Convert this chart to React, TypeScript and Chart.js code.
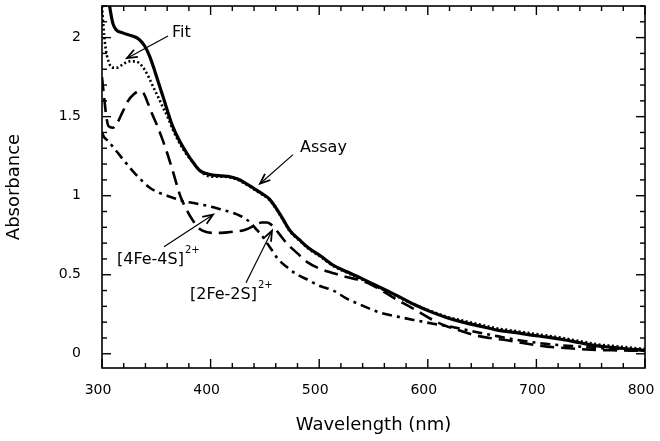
import React, { useEffect, useRef } from "react";
import { Chart, registerables } from "chart.js";

Chart.register(...registerables);

// ---- Data ----
const assayX = [303, 307, 310, 313, 319, 328, 334, 339, 344, 349, 356, 365, 372, 378, 385, 390, 396, 402, 410, 418, 425, 432, 440, 448, 454, 460, 466, 473, 482, 490, 501, 513, 525, 538, 550, 562, 574, 588, 603, 617, 632, 648, 664, 680, 694, 710, 724, 740, 756, 770, 785, 800];
const assayY = [2.4, 2.2, 2.09, 2.05, 2.03, 2.01, 1.99, 1.95, 1.88, 1.78, 1.63, 1.44, 1.34, 1.27, 1.2, 1.16, 1.14, 1.13, 1.125, 1.12, 1.105, 1.08, 1.045, 1.01, 0.98, 0.925, 0.86, 0.78, 0.72, 0.67, 0.62, 0.56, 0.52, 0.48, 0.44, 0.4, 0.36, 0.31, 0.265, 0.23, 0.2, 0.175, 0.15, 0.135, 0.12, 0.105, 0.09, 0.07, 0.05, 0.04, 0.03, 0.02];

const fitX = [300, 301, 303, 306, 310, 314, 319, 325, 330, 334, 339, 343, 347, 352, 356, 361, 365, 370, 378, 385, 390, 396, 402, 410, 418, 425, 432, 440, 448, 454, 460, 466, 473, 482, 490, 501, 513, 525, 538, 550, 562, 574, 588, 603, 617, 632, 648, 664, 680, 694, 710, 724, 740, 756, 770, 785, 800];
const fitY = [2.2, 2.1, 1.95, 1.85, 1.81, 1.81, 1.83, 1.85, 1.85, 1.84, 1.8, 1.75, 1.69, 1.62, 1.56, 1.49, 1.42, 1.35, 1.26, 1.2, 1.16, 1.13, 1.12, 1.12, 1.115, 1.1, 1.075, 1.04, 1.005, 0.975, 0.92, 0.855, 0.775, 0.715, 0.665, 0.615, 0.555, 0.515, 0.475, 0.435, 0.395, 0.355, 0.31, 0.27, 0.235, 0.21, 0.185, 0.16, 0.145, 0.13, 0.115, 0.1, 0.08, 0.06, 0.05, 0.04, 0.03];

const fe2sX = [300, 302, 304, 306, 310, 314, 319, 324, 329, 334, 338, 342, 346, 351, 356, 360, 365, 372, 378, 384, 390, 396, 402, 410, 418, 425, 432, 440, 447, 452, 457, 463, 470, 480, 489, 500, 513, 525, 538, 550, 560, 572, 583, 593, 603, 615, 628, 642, 657, 673, 690, 710, 730, 750, 770, 786, 800];
const fe2sY = [1.75, 1.62, 1.5, 1.44, 1.43, 1.46, 1.53, 1.6, 1.64, 1.66, 1.65, 1.59, 1.52, 1.44, 1.35, 1.27, 1.16, 1.0, 0.91, 0.84, 0.79, 0.77, 0.765, 0.765, 0.77, 0.775, 0.785, 0.81, 0.83, 0.83, 0.81, 0.76, 0.7, 0.635, 0.58, 0.54, 0.51, 0.485, 0.465, 0.43, 0.39, 0.34, 0.3, 0.26, 0.22, 0.18, 0.15, 0.12, 0.1, 0.085, 0.065, 0.045, 0.035, 0.025, 0.022, 0.02, 0.02];

const fe4sX = [300, 302, 305, 310, 317, 323, 329, 336, 344, 352, 360, 368, 375, 383, 390, 398, 406, 414, 421, 428, 433, 438, 443, 448, 452, 457, 462, 470, 480, 489, 500, 513, 525, 538, 556, 572, 590, 605, 618, 636, 650, 665, 680, 700, 720, 740, 760, 780, 800];
const fe4sY = [1.4, 1.37, 1.35, 1.31, 1.25, 1.2, 1.15, 1.1, 1.05, 1.02, 1.0, 0.98, 0.965, 0.955, 0.945, 0.935, 0.92, 0.905, 0.89, 0.87, 0.85, 0.82, 0.78, 0.74, 0.7, 0.65, 0.6, 0.55, 0.5, 0.47, 0.43, 0.4, 0.35, 0.31, 0.26, 0.235, 0.21, 0.19, 0.175, 0.15, 0.13, 0.11, 0.09, 0.07, 0.055, 0.045, 0.035, 0.03, 0.025];

const xTickValues = [300, 400, 500, 600, 700, 800];
const xTickLabels = ["300", "400", "500", "600", "700", "800"];
const yTickValues = [0, 0.5, 1, 1.5, 2];
const yTickLabels = ["0", "0.5", "1", "1.5", "2"];

const xTitle = "Wavelength (nm)";
const yTitle = "Absorbance";

// annotation labels (text, superscript) and their anchor / arrow points in data units
const noteTexts = ["Fit", "Assay", "[4Fe-4S]", "[2Fe-2S]"];
const noteSups = ["", "", "2+", "2+"];
const notePos = [
  { tx: 364.5, ty: 2.03, ax0: 360.8, ay0: 2.01, ax1: 323, ay1: 1.87 },
  { tx: 482.3, ty: 1.3, ax0: 475.9, ay0: 1.26, ax1: 445.5, ay1: 1.076 },
  { tx: 313.8, ty: 0.595, ax0: 357.1, ay0: 0.677, ax1: 402.2, ay1: 0.88 },
  { tx: 381, ty: 0.373, ax0: 432.6, ay0: 0.449, ax1: 456.5, ay1: 0.778 },
];

const FONT = "'DejaVu Sans', 'Liberation Sans', Arial, sans-serif";

const pts = (xs: number[], ys: number[]) => xs.map((x, i) => ({ x, y: ys[i] }));

const framePlugin = {
  id: "frameTicksNotes",
  afterDatasetsDraw(chart: any) {
    const { ctx, chartArea } = chart;
    const { left, right, top, bottom } = chartArea;
    const xs = chart.scales.x;
    const ys = chart.scales.y;
    ctx.save();
    ctx.strokeStyle = "#000";
    ctx.lineWidth = 1.6;
    ctx.strokeRect(left, top, right - left, bottom - top);
    ctx.lineWidth = 1.4;
    const line = (a: number, b: number, c: number, d: number) => {
      ctx.beginPath();
      ctx.moveTo(a, b);
      ctx.lineTo(c, d);
      ctx.stroke();
    };
    for (let v = 300; v <= 800; v += 20) {
      const px = xs.getPixelForValue(v);
      const len = v % 100 === 0 ? 9 : 5;
      line(px, bottom, px, bottom - len);
      line(px, top, px, top + len);
    }
    for (let i = 0; i <= 22; i++) {
      const py = ys.getPixelForValue(i / 10);
      const len = i % 5 === 0 ? 9 : 5;
      line(left, py, left + len, py);
      line(right, py, right - len, py);
    }
    // annotations
    ctx.fillStyle = "#000";
    ctx.textBaseline = "middle";
    ctx.textAlign = "left";
    noteTexts.forEach((t, i) => {
      const p = notePos[i];
      const tx = xs.getPixelForValue(p.tx);
      const ty = ys.getPixelForValue(p.ty);
      ctx.font = `16px ${FONT}`;
      ctx.fillText(t, tx, ty);
      const w = ctx.measureText(t).width;
      if (noteSups[i]) {
        ctx.font = `10px ${FONT}`;
        ctx.fillText(noteSups[i], tx + w + 1, ty - 9);
      }
      const x0 = xs.getPixelForValue(p.ax0);
      const y0 = ys.getPixelForValue(p.ay0);
      const x1 = xs.getPixelForValue(p.ax1);
      const y1 = ys.getPixelForValue(p.ay1);
      ctx.lineWidth = 1.2;
      line(x0, y0, x1, y1);
      const ang = Math.atan2(y1 - y0, x1 - x0);
      const hl = 11;
      const sp = 0.38;
      ctx.lineWidth = 1.8;
      ctx.beginPath();
      ctx.moveTo(x1 - hl * Math.cos(ang - sp), y1 - hl * Math.sin(ang - sp));
      ctx.lineTo(x1, y1);
      ctx.lineTo(x1 - hl * Math.cos(ang + sp), y1 - hl * Math.sin(ang + sp));
      ctx.stroke();
    });
    ctx.restore();
  },
};

export default function App() {
  const ref = useRef<HTMLCanvasElement | null>(null);
  useEffect(() => {
    if (!ref.current) return;
    const common = { pointRadius: 0, fill: false, borderColor: "#000", cubicInterpolationMode: "monotone" as const };
    const chart = new Chart(ref.current, {
      type: "line",
      data: {
        datasets: [
          { ...common, label: "Assay", data: pts(assayX, assayY), borderWidth: 3.2, order: 1 },
          { ...common, label: "Fit", data: pts(fitX, fitY), borderWidth: 2.6, borderDash: [2, 2.5], order: 2 },
          { ...common, label: "[2Fe-2S]2+", data: pts(fe2sX, fe2sY), borderWidth: 2.6, borderDash: [14, 7], order: 3 },
          { ...common, label: "[4Fe-4S]2+", data: pts(fe4sX, fe4sY), borderWidth: 2.6, borderDash: [10, 5, 3, 5], order: 4 },
        ],
      },
      options: {
        animation: false,
        responsive: false,
        maintainAspectRatio: false,
        layout: { padding: { left: 0, right: 15, top: 6, bottom: 0 } },
        plugins: { legend: { display: false }, tooltip: { enabled: false } },
        scales: {
          x: {
            type: "linear",
            min: 300,
            max: 800,
            grid: { display: false },
            border: { display: false },
            afterBuildTicks: (s: any) => {
              s.ticks = xTickValues.map((v) => ({ value: v }));
            },
            afterFit: (s: any) => {
              s.height = 73;
              s.paddingLeft = 0;
              s.paddingRight = 0;
            },
            ticks: {
              autoSkip: false,
              maxRotation: 0,
              padding: 6,
              labelOffset: -4,
              color: "#000",
              font: { family: FONT, size: 14 },
              callback: (v: any) => xTickLabels[xTickValues.indexOf(Number(v))] ?? "",
            },
            title: { display: true, text: xTitle, color: "#000", font: { family: FONT, size: 18 }, padding: { top: 0, bottom: 5 } },
          },
          y: {
            type: "linear",
            min: -0.09,
            max: 2.2,
            grid: { display: false },
            border: { display: false },
            afterBuildTicks: (s: any) => {
              s.ticks = yTickValues.map((v) => ({ value: v }));
            },
            afterFit: (s: any) => {
              s.width = 102;
              s.paddingTop = 0;
              s.paddingBottom = 0;
            },
            ticks: {
              autoSkip: false,
              padding: 13,
              color: "#000",
              font: { family: FONT, size: 14 },
              callback: (v: any) => yTickLabels[yTickValues.indexOf(Number(v))] ?? "",
            },
            title: { display: true, text: yTitle, color: "#000", font: { family: FONT, size: 18 }, padding: { top: 4, bottom: 0 } },
          },
        },
      },
      plugins: [framePlugin],
    });
    return () => chart.destroy();
  }, []);
  return (
    <div style={{ position: "fixed", left: 0, top: 0, width: 660, height: 441, background: "#fff" }}>
      <canvas ref={ref} width={660} height={441} style={{ display: "block", width: 660, height: 441 }} />
    </div>
  );
}
